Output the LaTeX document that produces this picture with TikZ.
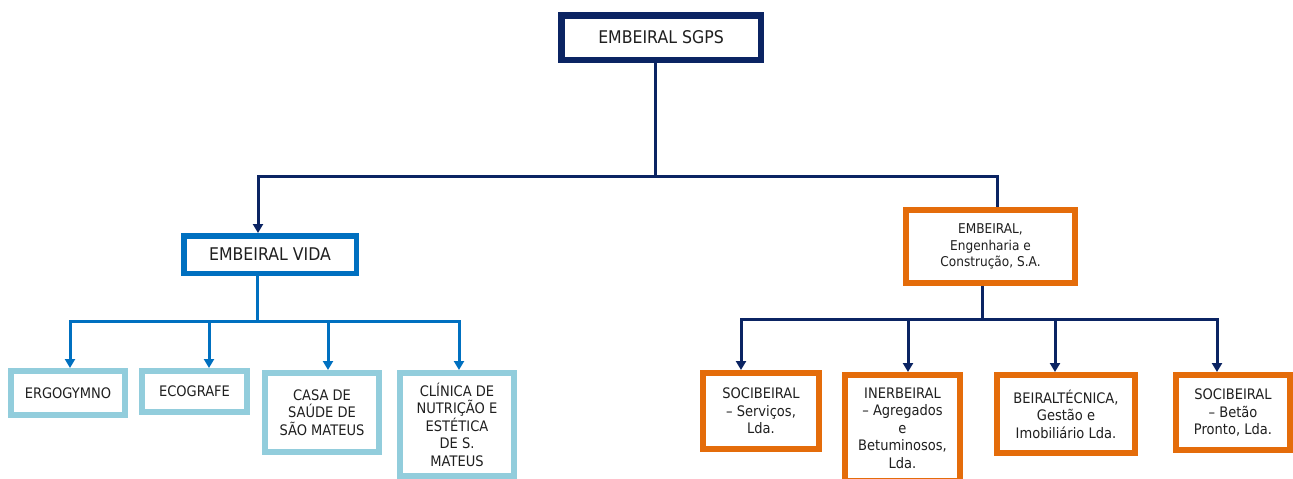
\documentclass[tikz,border=0pt]{standalone}
\usepackage{fontspec}
\setmainfont{DejaVu Sans}[FakeStretch=0.9]
\usetikzlibrary{arrows.meta}
\definecolor{navy}{HTML}{0B2463}
\definecolor{midblue}{HTML}{0070C0}
\definecolor{lightblue}{HTML}{92CDDC}
\definecolor{orng}{HTML}{E46C0A}
\definecolor{txt}{HTML}{1F1F1F}
\tikzset{
  box/.style={draw, fill=white, rectangle, inner sep=2pt, align=center, text=txt},
  topbox/.style={box, draw=navy, line width=6.5pt, font=\fontsize{17.5}{21}\selectfont},
  vidabox/.style={box, draw=midblue, line width=5.5pt, font=\fontsize{17.5}{21}\selectfont},
  embbox/.style={box, draw=orng, line width=6pt, font=\fontsize{13.5}{16.5}\selectfont},
  lbbox/.style={box, draw=lightblue, line width=6pt, font=\fontsize{14.5}{17.5}\selectfont},
  obox/.style={box, draw=orng, line width=6pt, font=\fontsize{14.5}{17.5}\selectfont},
  navyline/.style={draw=navy, line width=3pt},
  blueline/.style={draw=midblue, line width=3pt},
  tip/.tip={Triangle[width=10pt,length=9pt]}
}
\begin{document}
\begin{tikzpicture}[x=1pt,y=-1pt]
\useasboundingbox[fill=white] (0,0) rectangle (1293,479);
% boxes
\node[topbox, minimum width=199.5pt, minimum height=44.5pt] (sgps) at (661,37.5) {EMBEIRAL SGPS};
\node[vidabox, minimum width=172.5pt, minimum height=37.5pt] (vida) at (270,254.5) {EMBEIRAL VIDA};
\node[embbox, minimum width=169pt, minimum height=73pt] (emb) at (990.5,246.5) {EMBEIRAL,\\Engenharia e\\Construção, S.A.};
\node[lbbox, minimum width=114pt, minimum height=44pt] (ergo) at (68,393) {ERGOGYMNO};
\node[lbbox, minimum width=105pt, minimum height=41pt] (eco) at (194.5,391.5) {ECOGRAFE};
\node[lbbox, minimum width=114pt, minimum height=79pt] (casa) at (322,412.5) {CASA DE\\SAÚDE DE\\SÃO MATEUS};
\node[lbbox, minimum width=114pt, minimum height=103pt] (clin) at (457,424.5) {CLÍNICA DE\\NUTRIÇÃO E\\ESTÉTICA\\DE S.\\MATEUS};
\node[obox, minimum width=116pt, minimum height=76pt] (soc1) at (761,411) {SOCIBEIRAL\\– Serviços,\\Lda.};
\node[obox, minimum width=115pt, minimum height=106pt] (iner) at (902.5,428) {INERBEIRAL\\– Agregados\\e\\Betuminosos,\\Lda.};
\node[obox, minimum width=138pt, minimum height=78pt] (beir) at (1066,414) {BEIRALTÉCNICA,\\Gestão e\\Imobiliário Lda.};
\node[obox, minimum width=114pt, minimum height=75pt] (soc2) at (1233,412.5) {SOCIBEIRAL\\– Betão\\Pronto, Lda.};
% top connectors
\coordinate (tb) at (655,176);
\coordinate (tl) at (258,176);
\coordinate (tr) at (997,176);
\draw[navyline] (sgps.south -| tb) -- (tb);
\draw[navyline, {tip}-] (vida.north -| tl) -- (tl) -- (tr) -- (emb.north -| tr);
% vida connectors
\coordinate (vb) at (257,321);
\coordinate (v1) at (70,321);
\coordinate (v2) at (209,321);
\coordinate (v3) at (328,321);
\coordinate (v4) at (459,321);
\draw[blueline] (vida.south -| vb) -- (vb);
\draw[blueline, {tip}-{tip}] (ergo.north -| v1) -- (v1) -- (v4) -- (clin.north -| v4);
\draw[blueline, -{tip}] (v2) -- (eco.north -| v2);
\draw[blueline, -{tip}] (v3) -- (casa.north -| v3);
% embeiral connectors
\coordinate (ob) at (982,319);
\coordinate (o1) at (741,319);
\coordinate (o2) at (908,319);
\coordinate (o3) at (1055,319);
\coordinate (o4) at (1217,319);
\draw[navyline] (emb.south -| ob) -- (ob);
\draw[navyline, {tip}-{tip}] (soc1.north -| o1) -- (o1) -- (o4) -- (soc2.north -| o4);
\draw[navyline, -{tip}] (o2) -- (iner.north -| o2);
\draw[navyline, -{tip}] (o3) -- (beir.north -| o3);
\end{tikzpicture}
\end{document}
